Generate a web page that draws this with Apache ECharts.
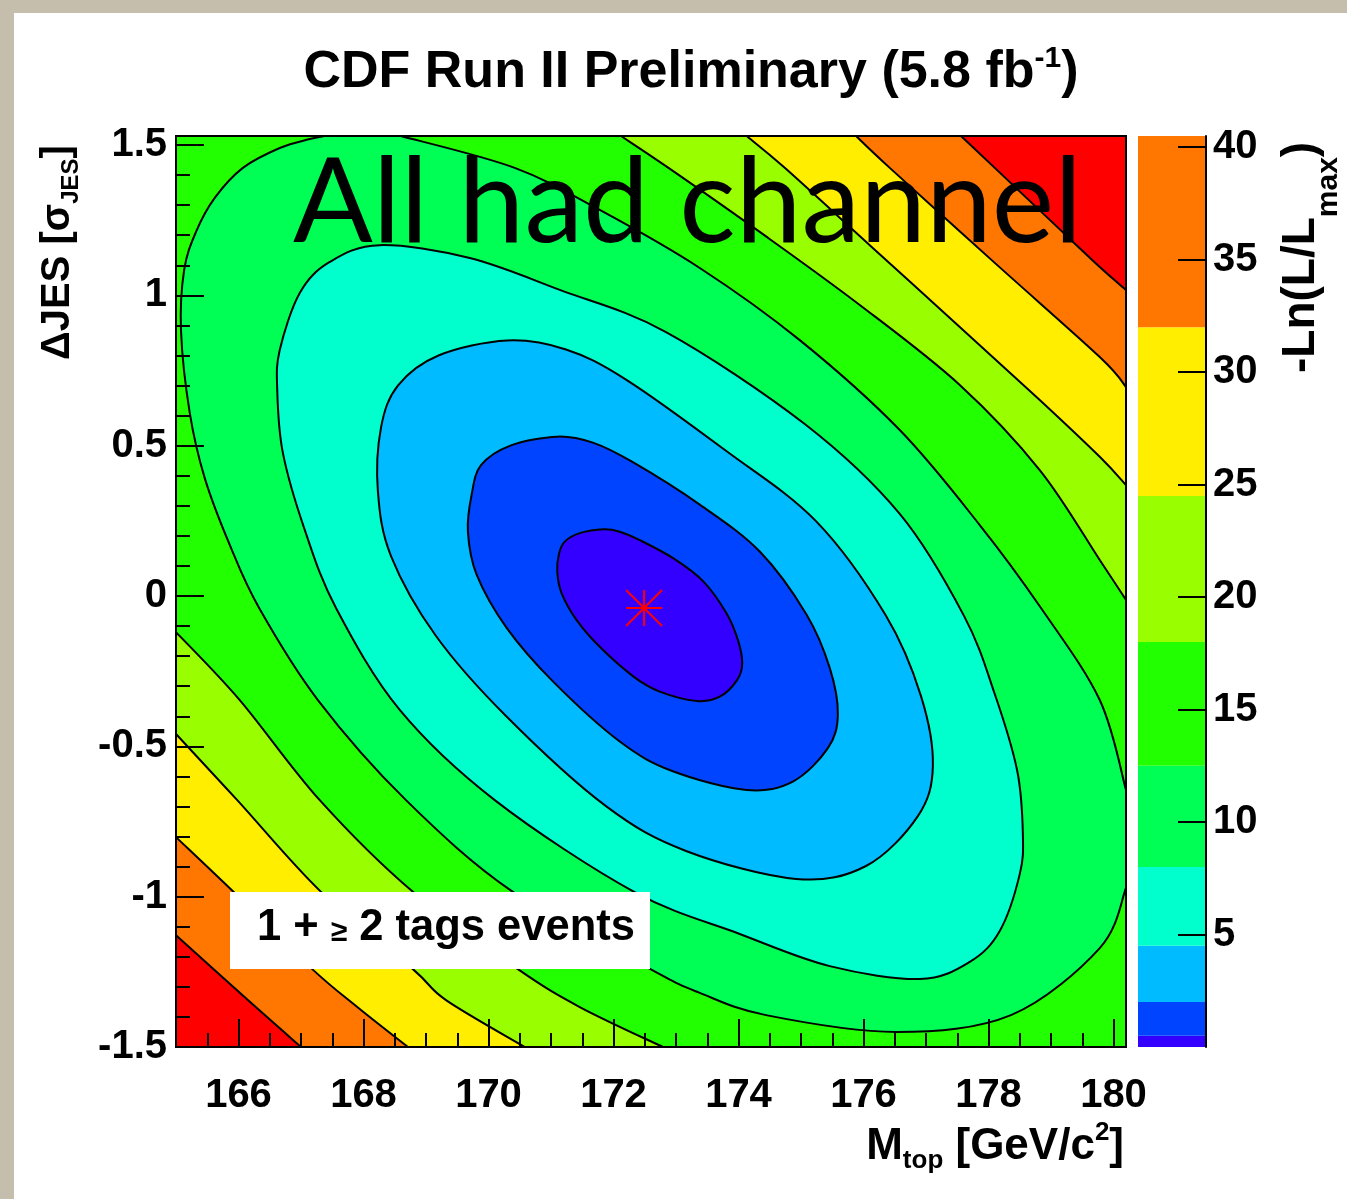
<!DOCTYPE html>
<html>
<head>
<meta charset="utf-8">
<script src="https://cdn.jsdelivr.net/npm/echarts@6.0.0/dist/echarts.min.js"></script>
<style>
html,body{margin:0;padding:0;background:#fff;}
#chart{width:1347px;height:1199px;}
</style>
</head>
<body>
<div id="chart"></div>
<script>
// ---------------- data ----------------
const contourLevels = [0.5, 2, 4.5, 8, 12.5, 18, 24.5, 32, 40.5];
const colorbarTicks = [5, 10, 15, 20, 25, 30, 35, 40];
const mTopTicks = [166, 168, 170, 172, 174, 176, 178, 180];
const jesTicks = [-1.5, -1, -0.5, 0, 0.5, 1, 1.5];
const bestFit = [172.49, -0.04];

// contour -lnL = 0.5 (closed)
const c05 = [[171.84,0.222],[171.46,0.209],[171.22,0.181],[171.13,0.142],[171.10,0.081],[171.17,0.009],[171.41,-0.080],[171.78,-0.169],[172.32,-0.268],[172.74,-0.318],[173.33,-0.349],[173.70,-0.335],[173.98,-0.279],[174.06,-0.224],[173.99,-0.146],[173.81,-0.058],[173.44,0.048],[172.96,0.125],[172.42,0.186],[172.10,0.214]];
// contour 2 (closed)
const c2 = [[171.10,0.530],[170.35,0.500],[169.88,0.435],[169.73,0.337],[169.67,0.215],[169.81,0.071],[170.29,-0.106],[171.03,-0.284],[172.10,-0.484],[172.95,-0.583],[174.13,-0.645],[174.87,-0.617],[175.43,-0.506],[175.59,-0.394],[175.46,-0.239],[175.09,-0.062],[174.34,0.148],[173.38,0.304],[172.31,0.445],[171.67,0.510]];
// contour 4.5 (closed)
const c45 = [[170.30,0.850],[169.20,0.800],[168.55,0.700],[168.28,0.560],[168.23,0.349],[168.44,0.133],[169.16,-0.133],[170.28,-0.399],[171.88,-0.699],[173.16,-0.848],[174.92,-0.941],[176.04,-0.898],[176.87,-0.732],[177.11,-0.565],[176.92,-0.333],[176.36,-0.066],[175.24,0.249],[173.80,0.483],[172.20,0.720],[171.24,0.820]];
// contour 8 (closed)
const c8 = [[168.26,1.167],[167.46,1.111],[166.98,1.008],[166.66,0.818],[166.62,0.685],[166.71,0.476],[167.06,0.220],[167.56,-0.040],[168.58,-0.379],[170.10,-0.679],[172.33,-0.984],[174.02,-1.124],[175.46,-1.231],[176.90,-1.274],[177.70,-1.217],[178.18,-1.114],[178.50,-0.925],[178.55,-0.792],[178.46,-0.582],[178.10,-0.326],[177.61,-0.067],[176.58,0.273],[175.06,0.572],[172.84,0.878],[171.14,1.018],[169.70,1.124]];
// contour 12.5 (cut by the top and right frame)
const c125a = [[168.60,1.530],[170.42,1.424],[171.78,1.284],[173.38,1.091],[174.98,0.851],[176.58,0.552],[177.86,0.236],[178.84,-0.040],[179.78,-0.346],[180.2,-0.645]];
const c125b = [[180.2,-0.971],[179.78,-1.171],[178.36,-1.394],[176.52,-1.450],[174.44,-1.394],[173.38,-1.320],[172.62,-1.244],[170.39,-0.984],[168.68,-0.679],[167.27,-0.346],[166.33,-0.040],[165.86,0.170],[165.46,0.392],[165.22,0.609],[165.08,0.883],[165.13,1.084],[165.32,1.211],[165.62,1.324],[166.07,1.424],[166.66,1.490],[167.14,1.520],[167.37,1.530]];
// open contours: upper-right branch and lower-left branch
const c18up = [[172.12,1.530],[172.88,1.424],[174.34,1.211],[175.94,0.968],[177.54,0.702],[178.82,0.419],[179.78,0.120],[180.2,-0.013]];
const c18lo = [[165,-0.120],[166.02,-0.346],[167.30,-0.679],[168.79,-0.984],[170.47,-1.241],[171.46,-1.367],[172.79,-1.500]];
const c245up = [[174.13,1.530],[174.74,1.424],[176.10,1.167],[177.54,0.895],[178.82,0.652],[179.78,0.463],[180.2,0.369]];
const c245lo = [[165,-0.459],[165.98,-0.679],[167.32,-0.984],[168.79,-1.241],[169.32,-1.344],[170.58,-1.500]];
const c32up = [[175.88,1.530],[176.42,1.424],[178.10,1.108],[179.78,0.795],[180.2,0.695]];
const c32lo = [[165,-0.802],[166.02,-1.004],[167.18,-1.241],[167.90,-1.367],[168.71,-1.500]];
const c405up = [[177.56,1.530],[178.10,1.424],[178.98,1.251],[179.78,1.094],[180.2,1.018]];
const c405lo = [[165,-1.128],[166.15,-1.344],[167.00,-1.500]];

// ---------------- styles / layout ----------------
const bandColors = ['#3300ff','#0044ff','#00bbff','#00ffcc','#00ff55','#22ff00','#99ff00','#ffee00','#ff7700','#ff0000'];
const FONT = 'Liberation Sans';
const X0 = 165, X1 = 180.2, Y0 = -1.5, Y1 = 1.53;

// Catmull-Rom -> cubic bezier through pixel points
function curve(P, closed) {
  const n = P.length; let s = '';
  const get = i => closed ? P[(i + n) % n] : P[Math.max(0, Math.min(n - 1, i))];
  const last = closed ? n : n - 1;
  for (let i = 0; i < last; i++) {
    const p0 = get(i - 1), p1 = get(i), p2 = get(i + 1), p3 = get(i + 2);
    const a = [p1[0] + (p2[0] - p0[0]) / 6, p1[1] + (p2[1] - p0[1]) / 6];
    const b = [p2[0] - (p3[0] - p1[0]) / 6, p2[1] - (p3[1] - p1[1]) / 6];
    s += 'C' + a[0] + ',' + a[1] + ' ' + b[0] + ',' + b[1] + ' ' + p2[0] + ',' + p2[1] + ' ';
  }
  return s;
}

const fillSpecs = [
  {band: 8, parts: [{c: c405up}, {p: [X1, Y0]}, {c: c405lo, rev: true}, {p: [X0, Y1]}]},
  {band: 7, parts: [{c: c32up}, {p: [X1, Y0]}, {c: c32lo, rev: true}, {p: [X0, Y1]}]},
  {band: 6, parts: [{c: c245up}, {p: [X1, Y0]}, {c: c245lo, rev: true}, {p: [X0, Y1]}]},
  {band: 5, parts: [{c: c18up}, {p: [X1, Y0]}, {c: c18lo, rev: true}, {p: [X0, Y1]}]},
  {band: 4, parts: [{c: c125a}, {c: c125b}]},
  {band: 3, closed: c8},
  {band: 2, closed: c45},
  {band: 1, closed: c2},
  {band: 0, closed: c05}
];
const strokeSpecs = [
  {pts: c405up}, {pts: c405lo}, {pts: c32up}, {pts: c32lo}, {pts: c245up}, {pts: c245lo},
  {pts: c18up}, {pts: c18lo}, {pts: c125a}, {pts: c125b},
  {pts: c8, closed: true}, {pts: c45, closed: true}, {pts: c2, closed: true}, {pts: c05, closed: true}
];

function fillPath(f, api) {
  let d = '';
  if (f.closed) {
    const P = f.closed.map(q => api.coord(q));
    return 'M' + P[0][0] + ',' + P[0][1] + ' ' + curve(P, true) + 'Z';
  }
  f.parts.forEach((pt, k) => {
    if (pt.p) {
      const q = api.coord(pt.p);
      d += (k ? 'L' : 'M') + q[0] + ',' + q[1] + ' ';
    } else {
      let P = pt.c.map(q => api.coord(q));
      if (pt.rev) P = P.slice().reverse();
      d += (k ? 'L' : 'M') + P[0][0] + ',' + P[0][1] + ' ' + curve(P, false);
    }
  });
  return d + 'Z';
}

// text helper: runs of pieces [text, size, baselineShift]
const mctx = document.createElement('canvas').getContext('2d');
function textRun(pieces, opt) {
  const fam = opt.family || FONT, wt = opt.weight || 'bold', k = opt.k || 0.3465;
  const widths = pieces.map(p => { mctx.font = wt + ' ' + p[1] + 'px "' + fam + '"'; return mctx.measureText(p[0]).width; });
  const total = widths.reduce((a, b) => a + b, 0);
  let cx = opt.align === 'center' ? -total / 2 : (opt.align === 'right' ? -total : 0);
  const children = pieces.map((p, i) => {
    const el = {type: 'text', z: 110, x: cx, y: (p[2] || 0) - k * p[1],
      style: {text: p[0], fontSize: p[1], fontWeight: wt, fontFamily: fam, fill: '#000', align: 'left', verticalAlign: 'middle'}};
    cx += widths[i];
    return el;
  });
  return {type: 'group', x: opt.x, y: opt.y, rotation: opt.rotation || 0, z: 110, children};
}

const tickLabel = {color: '#000', fontSize: 40, fontWeight: 'bold', fontFamily: FONT};
const tickLine = {color: '#000', width: 2};

const chart = echarts.init(document.getElementById('chart'), null, {width: 1347, height: 1199});
chart.setOption({
  animation: false,
  backgroundColor: '#ffffff',
  grid: [
    {left: 176, top: 136, width: 950, height: 911, show: true, backgroundColor: bandColors[9], borderWidth: 0},
    {left: 1138, top: 136, width: 68, height: 911},
    {left: 176, top: 136, width: 950, height: 911}
  ],
  xAxis: [
    {gridIndex: 0, type: 'value', min: X0, max: X1, z: 10,
      axisLine: {show: true, onZero: false, lineStyle: tickLine},
      axisTick: {show: true, inside: true, length: 28, customValues: mTopTicks, lineStyle: tickLine},
      axisLabel: Object.assign({customValues: mTopTicks, margin: 29}, tickLabel),
      splitLine: {show: false}},
    {gridIndex: 1, type: 'value', min: 0, max: 1, show: false},
    {gridIndex: 2, type: 'value', min: X0, max: X1, interval: 0.5, z: 10,
      axisLine: {show: false, onZero: false}, axisTick: {show: true, inside: true, length: 14, lineStyle: tickLine},
      axisLabel: {show: false}, splitLine: {show: false}}
  ],
  yAxis: [
    {gridIndex: 0, type: 'value', min: Y0, max: Y1, z: 10,
      axisLine: {show: true, onZero: false, lineStyle: tickLine},
      axisTick: {show: true, inside: true, length: 28, customValues: jesTicks, lineStyle: tickLine},
      axisLabel: Object.assign({customValues: jesTicks, margin: 9}, tickLabel),
      splitLine: {show: false}},
    {gridIndex: 1, type: 'value', position: 'right', min: 0, max: 40.5, z: 10,
      axisLine: {show: true, onZero: false, lineStyle: tickLine},
      axisTick: {show: true, inside: true, length: 28, customValues: colorbarTicks, lineStyle: tickLine},
      axisLabel: Object.assign({customValues: colorbarTicks, margin: 7}, tickLabel),
      splitLine: {show: false}},
    {gridIndex: 2, type: 'value', min: Y0, max: Y1, interval: 0.1, z: 10,
      axisLine: {show: false, onZero: false}, axisTick: {show: true, inside: true, length: 14, lineStyle: tickLine},
      axisLabel: {show: false}, splitLine: {show: false}}
  ],
  series: [
    {type: 'custom', xAxisIndex: 0, yAxisIndex: 0, z: 2,
      data: fillSpecs.map(() => [170, 0]),
      renderItem: (params, api) => {
        const f = fillSpecs[params.dataIndex];
        return {type: 'path', shape: {pathData: fillPath(f, api)}, style: {fill: bandColors[f.band], stroke: 'none'}};
      }},
    {type: 'custom', xAxisIndex: 0, yAxisIndex: 0, z: 3,
      data: strokeSpecs.map(() => [170, 0]),
      renderItem: (params, api) => {
        const s = strokeSpecs[params.dataIndex];
        const P = s.pts.map(q => api.coord(q));
        const d = 'M' + P[0][0] + ',' + P[0][1] + ' ' + curve(P, !!s.closed) + (s.closed ? 'Z' : '');
        return {type: 'path', shape: {pathData: d}, style: {fill: 'none', stroke: '#000', lineWidth: 2}};
      }},
    {type: 'custom', xAxisIndex: 0, yAxisIndex: 0, z: 4,
      data: [bestFit],
      renderItem: (params, api) => {
        const c = api.coord([api.value(0), api.value(1)]);
        const r = 18, st = {stroke: '#ff0000', lineWidth: 2};
        return {type: 'group', children: [
          {type: 'line', shape: {x1: c[0] - r, y1: c[1], x2: c[0] + r, y2: c[1]}, style: st},
          {type: 'line', shape: {x1: c[0], y1: c[1] - r, x2: c[0], y2: c[1] + r}, style: st},
          {type: 'line', shape: {x1: c[0] - r, y1: c[1] - r, x2: c[0] + r, y2: c[1] + r}, style: st},
          {type: 'line', shape: {x1: c[0] - r, y1: c[1] + r, x2: c[0] + r, y2: c[1] - r}, style: st}
        ]};
      }},
    {type: 'custom', xAxisIndex: 1, yAxisIndex: 1, z: 2,
      data: contourLevels.map((hi, i) => [i === 0 ? 0 : contourLevels[i - 1], hi, i]),
      renderItem: (params, api) => {
        const a = api.coord([0, api.value(0)]), b = api.coord([1, api.value(1)]);
        return {type: 'rect', shape: {x: a[0], y: b[1], width: b[0] - a[0], height: a[1] - b[1]},
          style: {fill: bandColors[api.value(2)], stroke: 'none'}};
      }}
  ],
  graphic: {elements: [
    {type: 'rect', shape: {x: 0, y: 0, width: 1347, height: 13}, style: {fill: '#c6beac'}, z: 100},
    {type: 'rect', shape: {x: 0, y: 0, width: 14, height: 1199}, style: {fill: '#c6beac'}, z: 100},
    {type: 'rect', shape: {x: 176, y: 136, width: 950, height: 911}, style: {fill: 'none', stroke: '#000', lineWidth: 2}, z: 90},
    {type: 'rect', shape: {x: 230, y: 892, width: 420, height: 77}, style: {fill: '#ffffff'}, z: 95},
    textRun([['CDF Run II Preliminary (5.8 fb', 52], ['-1', 30, -22], [')', 52]], {x: 691, y: 91, align: 'center'}),
    textRun([['All had channel', 118]], {x: 293, y: 250, family: 'Lato', weight: 'normal', k: 0.387}),
    textRun([['1 + ', 43.5], ['\u2265', 30], [' 2 tags events', 43.5]], {x: 257, y: 943}),
    textRun([['M', 44], ['top', 26, 8], [' [GeV/c', 44], ['2', 26, -20], [']', 44]], {x: 1124, y: 1162, align: 'right'}),
    textRun([['\u0394JES [\u03c3', 40], ['JES', 24, 8], [']', 40]], {x: 72, y: 360, rotation: Math.PI / 2}),
    textRun([['-Ln(L/L', 46], ['max', 30, 22], [')', 46]], {x: 1317, y: 373, rotation: Math.PI / 2})
  ]}
});
</script>
</body>
</html>
